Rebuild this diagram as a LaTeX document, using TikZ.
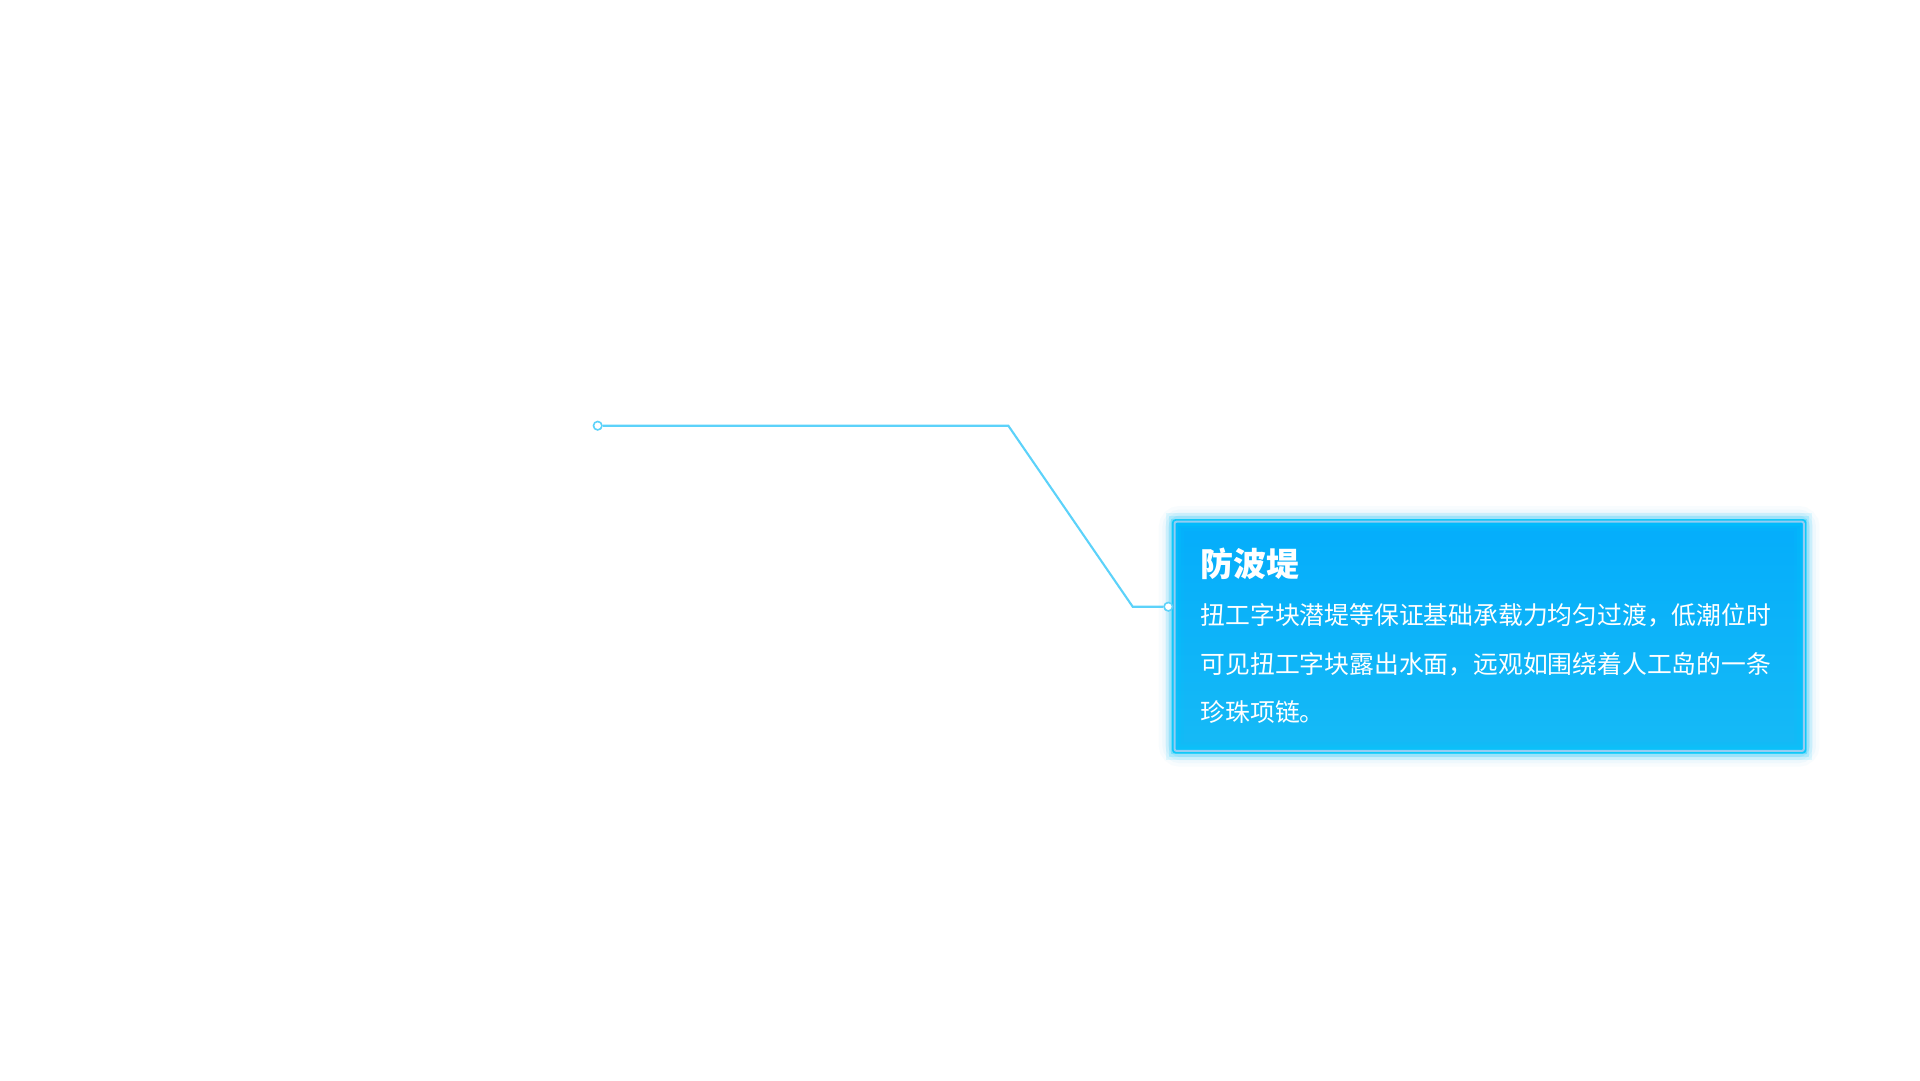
\documentclass[tikz,border=0pt]{standalone}
\usepackage{fontspec}
\newfontfamily\cjk{Noto Sans CJK SC}
\usetikzlibrary{positioning, backgrounds}

\definecolor{wireblue}{HTML}{5CD2FA}
\definecolor{cardtop}{HTML}{04ADFB}
\definecolor{cardbot}{HTML}{16BAF6}
\definecolor{cardedge}{HTML}{1CC8F5}
\definecolor{cardrim}{HTML}{95CCF2}
\definecolor{cardglow}{HTML}{7FCFF6}
\definecolor{innerglow}{HTML}{00CCFF}

\tikzset{
	wire/.style={draw=wireblue, line width=2.1pt},
	pin/.style={circle, draw=wireblue, fill=white, line width=1.6pt, inner sep=0pt, minimum size=8.5pt},
	card/.style={rectangle, rounded corners=3pt, top color=cardtop, bottom color=cardbot,
		draw=cardedge, line width=1.5pt, minimum width=633pt, minimum height=233pt, inner sep=0pt},
	title/.style={font=\cjk\bfseries\fontsize{33}{33}\selectfont, text=white, inner sep=0pt, anchor=base west},
	body/.style={font=\cjk\fontsize{24.8}{24.8}\selectfont, text=white, inner sep=0pt, anchor=base west},
}

\begin{document}
\begin{tikzpicture}[x=1pt,y=-1pt]
	\useasboundingbox (0,0) rectangle (1920,1080);

	%card
	\node[card] (card) at (1489.2,636.3) {};
	\begin{scope}[on background layer]
		\fill[white] (0,0) rectangle (1920,1080);
		\foreach \w/\o in {26/0.05, 19/0.08, 13/0.12, 7/0.2}
		\draw[cardglow, line width=\w pt, opacity=\o, rounded corners=8pt]
			(card.north west) rectangle (card.south east);		%outer glow
	\end{scope}
	\foreach \w/\o in {18/0.10, 12/0.15, 7/0.25}
	\draw[innerglow, line width=\w pt, opacity=\o]
		([shift={(3,3)}]card.north west) rectangle ([shift={(-3,-3)}]card.south east);	%inner glow
	\draw[cardrim, line width=2pt, rounded corners=2pt]
		([shift={(2.6,2.6)}]card.north west) rectangle ([shift={(-2.6,-2.6)}]card.south east);	%rim

	%texts
	\node[title] (head) at (1200.5,576.8) {防波堤};
	\node[body] (lineA) at (1200.5,624.5) {扭工字块潜堤等保证基础承载力均匀过渡，低潮位时};
	\node[body] (lineB) at (1200.5,673.8) {可见扭工字块露出水面，远观如围绕着人工岛的一条};
	\node[body] (lineC) at (1200.5,721.8) {珍珠项链。};

	%leader
	\node[pin] (start) at (597.7,425.7) {};
	\coordinate (bendA) at (1008.3,425.7);
	\coordinate (bendB) at (1132.7,606.7);
	\node[pin] (stop) at (1168.3,606.7) {};
	\draw[wire] (start) -- (bendA) -- (bendB) -- (stop);
\end{tikzpicture}
\end{document}
